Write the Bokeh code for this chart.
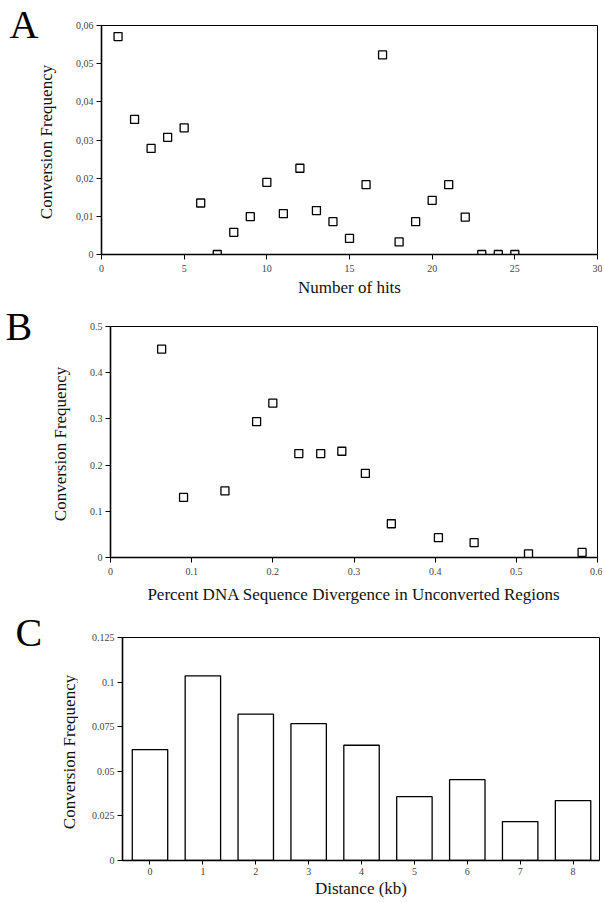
import math
from bokeh.plotting import figure
from bokeh.layouts import column, row
from bokeh.models import Range1d, FixedTicker
from bokeh.core.properties import value
from bokeh.embed import file_html
from bokeh.resources import INLINE

# ---------------- data ----------------
# Panel A
hits = list(range(1, 26))
freq_a = [0.0571, 0.0354, 0.0278, 0.0307, 0.0332, 0.0135, 0.0, 0.0058, 0.0099, 0.0189,
          0.0107, 0.0226, 0.0115, 0.0086, 0.0042, 0.0183, 0.0523, 0.0033, 0.0086, 0.0142,
          0.0183, 0.0098, 0.0, 0.0, 0.0]
a_xticks = [0, 5, 10, 15, 20, 25, 30]
a_yticks = [0, 0.01, 0.02, 0.03, 0.04, 0.05, 0.06]
a_ylabels = ["0", "0,01", "0,02", "0,03", "0,04", "0,05", "0,06"]

# Panel B
divergence = [0.063, 0.090, 0.141, 0.180, 0.200, 0.232, 0.259, 0.285, 0.314, 0.346,
              0.404, 0.448, 0.515, 0.581]
freq_b = [0.451, 0.130, 0.144, 0.294, 0.334, 0.225, 0.225, 0.230, 0.182, 0.073,
          0.043, 0.032, 0.008, 0.011]
b_xticks = [0, 0.1, 0.2, 0.3, 0.4, 0.5, 0.6]
b_xlabels = ["0", "0.1", "0.2", "0.3", "0.4", "0.5", "0.6"]
b_yticks = [0, 0.1, 0.2, 0.3, 0.4, 0.5]
b_ylabels = ["0", "0.1", "0.2", "0.3", "0.4", "0.5"]

# Panel C
distance = [0, 1, 2, 3, 4, 5, 6, 7, 8]
freq_c = [0.0622, 0.1035, 0.0820, 0.0767, 0.0646, 0.0358, 0.0453, 0.0218, 0.0336]
c_yticks = [0, 0.025, 0.05, 0.075, 0.1, 0.125]
c_ylabels = ["0", "0.025", "0.05", "0.075", "0.1", "0.125"]

panel_letters = ["A", "B", "C"]
y_title = "Conversion Frequency"

SERIF = "Liberation Serif"


def style(p):
    p.xgrid.grid_line_color = None
    p.ygrid.grid_line_color = None
    p.outline_line_color = "black"
    p.outline_line_width = 1
    for ax in (p.xaxis[0], p.yaxis[0]):
        ax.axis_line_color = "black"
        ax.axis_line_width = 1.6
        ax.major_tick_line_color = "black"
        ax.major_tick_line_width = 1
        ax.major_tick_in = 0
        ax.major_tick_out = 5
        ax.minor_tick_line_color = None
        ax.major_label_text_font = SERIF
        ax.major_label_text_font_size = "10px"
        ax.major_label_text_color = "#444444"
        ax.axis_label_text_font = SERIF
        ax.axis_label_text_font_size = "17px"
        ax.axis_label_text_font_style = "normal"
        ax.axis_label_text_color = "#111111"
    p.yaxis[0].major_label_standoff = 3
    p.xaxis[0].major_label_standoff = 5
    p.xaxis[0].axis_label_standoff = 3


def side_fig(letter, w, h, lx, ly, tx, ty):
    """Narrow strip left of a panel holding the panel letter and the y-axis title."""
    f = figure(width=w, height=h, output_backend="svg", toolbar_location=None,
               x_range=Range1d(0, w), y_range=Range1d(h, 0), frame_align=False,
               x_axis_location=None, y_axis_location=None,
               min_border_left=0, min_border_right=0, min_border_top=0, min_border_bottom=0)
    f.xgrid.grid_line_color = None
    f.ygrid.grid_line_color = None
    f.outline_line_color = None
    f.text(x=[lx], y=[ly], text=[letter], text_font=value(SERIF),
           text_font_size="40px", text_color="black", text_baseline="middle",
           text_align="left")
    f.text(x=[tx], y=[ty], text=[y_title], text_font=value(SERIF), angle=math.pi / 2,
           text_font_size="17px", text_color="#111111", text_baseline="middle",
           text_align="center")
    return f


# ---------------- Panel A ----------------
HA, LA = 300, 72
pa = figure(width=602 - LA, height=HA, output_backend="svg", toolbar_location=None,
            x_range=Range1d(0, 30), y_range=Range1d(0, 0.06), frame_align=False,
            min_border_left=101 - LA, min_border_right=5, min_border_top=25, min_border_bottom=46,
            x_axis_label="Number of hits")
style(pa)
pa.xaxis.ticker = FixedTicker(ticks=a_xticks)
pa.yaxis.ticker = FixedTicker(ticks=a_yticks)
pa.yaxis.major_label_overrides = {t: l for t, l in zip(a_yticks, a_ylabels)}
pa.scatter(hits, freq_a, marker="square", size=8, fill_color="white",
           line_color="black", line_width=1.3)
sa = side_fig(panel_letters[0], LA, HA, 9, 24, 46, 141.5)

# ---------------- Panel B ----------------
HB, LB = 306, 76
pb = figure(width=602 - LB, height=HB, output_backend="svg", toolbar_location=None,
            x_range=Range1d(0, 0.6), y_range=Range1d(0, 0.5), frame_align=False,
            min_border_left=110 - LB, min_border_right=5, min_border_top=26, min_border_bottom=49,
            x_axis_label="Percent DNA Sequence Divergence in Unconverted Regions")
style(pb)
pb.xaxis[0].axis_label_standoff = 7
pb.xaxis.ticker = FixedTicker(ticks=b_xticks)
pb.yaxis.ticker = FixedTicker(ticks=b_yticks)
pb.xaxis.major_label_overrides = {t: l for t, l in zip(b_xticks, b_xlabels)}
pb.yaxis.major_label_overrides = {t: l for t, l in zip(b_yticks, b_ylabels)}
pb.scatter(divergence, freq_b, marker="square", size=8, fill_color="white",
           line_color="black", line_width=1.3)
sb = side_fig(panel_letters[1], LB, HB, 5, 26, 60, 143.5)

# ---------------- Panel C ----------------
HC, LC = 294, 78
pc = figure(width=602 - LC, height=HC, output_backend="svg", toolbar_location=None,
            x_range=Range1d(-0.52, 8.5), y_range=Range1d(0, 0.125), frame_align=False,
            min_border_left=122 - LC, min_border_right=3, min_border_top=31, min_border_bottom=36,
            x_axis_label="Distance (kb)")
style(pc)
pc.xaxis.ticker = FixedTicker(ticks=distance)
pc.yaxis.ticker = FixedTicker(ticks=c_yticks)
pc.yaxis.major_label_overrides = {t: l for t, l in zip(c_yticks, c_ylabels)}
pc.xaxis[0].major_label_standoff = 3
pc.xaxis[0].axis_label_standoff = 1
pc.xaxis[0].major_tick_out = 4
pc.vbar(x=distance, top=freq_c, bottom=0, width=0.67, fill_color="white",
        line_color="black", line_width=1.3)
sc = side_fig(panel_letters[2], LC, HC, 15, 25.5, 68.5, 145.5)

layout = column(row(sa, pa, spacing=0), row(sb, pb, spacing=0), row(sc, pc, spacing=0),
                spacing=0)
open("out.html", "w").write(file_html(layout, INLINE))
